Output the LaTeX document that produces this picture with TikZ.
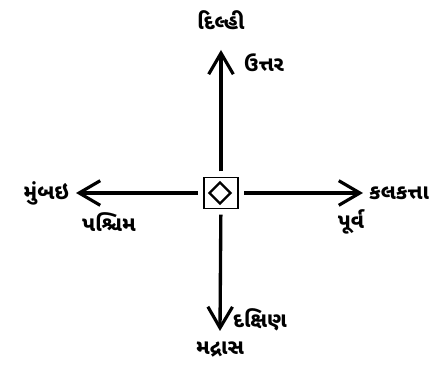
\documentclass[tikz,border=0pt]{standalone}
\usepackage{fontspec}
\newfontfamily\gujfont[Script=Gujarati]{Noto Sans Gujarati UI}
\usetikzlibrary{arrows.meta, positioning}
\tikzset{
    hub/.style={draw, line width=1.1pt, minimum width=0.68cm, minimum height=0.62cm,
                inner sep=0pt},
    dirline/.style={-{Straight Barb[length=12pt, width=14pt, line width=1.8pt]},
                    line width=1.9pt, shorten <=3pt},
    place/.style={font=\gujfont\bfseries\large, inner sep=1pt},
    dirname/.style={font=\gujfont\bfseries\large, inner sep=1pt},
}

\begin{document}
\begin{tikzpicture}[x=0.02cm, y=-0.02cm]
\useasboundingbox (0,0) rectangle (437,371);

% kendra: chorus ane vachche hiro
\node[hub] (hub) at (221,193) {};
\draw[line width=1.3pt] (hub.center) ++(-1,-10.5) -- ++(10.5,10.5) -- ++(-10.5,10.5)
     -- ++(-10.5,-10.5) -- cycle;

% chaar disha
\coordinate (ntip) at (221,50);
\coordinate (stip) at (220,331);
\coordinate (wtip) at (76,193);
\coordinate (etip) at (363,193);
\draw[dirline] (hub) -- (ntip);
\draw[dirline] (hub) -- (stip);
\draw[dirline] (hub) -- (wtip);
\draw[dirline] (hub) -- (etip);

% disha ane shaher na naam
\node[place] (delhi) at (221,20) {દિલ્હી};
\node[dirname, anchor=west] (uttar) at (242,63) {ઉત્તર};
\node[place, anchor=east] (mumbai) at (71,193) {મુંબઇ};
\node[dirname] (paschim) at (109,222) {પશ્ચિમ};
\node[place, anchor=west] (kalkatta) at (367,193) {કલકત્તા};
\node[dirname] (purva) at (351,222) {પૂર્વ};
\node[dirname, anchor=west] (dakshin) at (231,320) {દક્ષિણ};
\node[place] (madras) at (220,350) {મદ્રાસ};

\end{tikzpicture}
\end{document}
